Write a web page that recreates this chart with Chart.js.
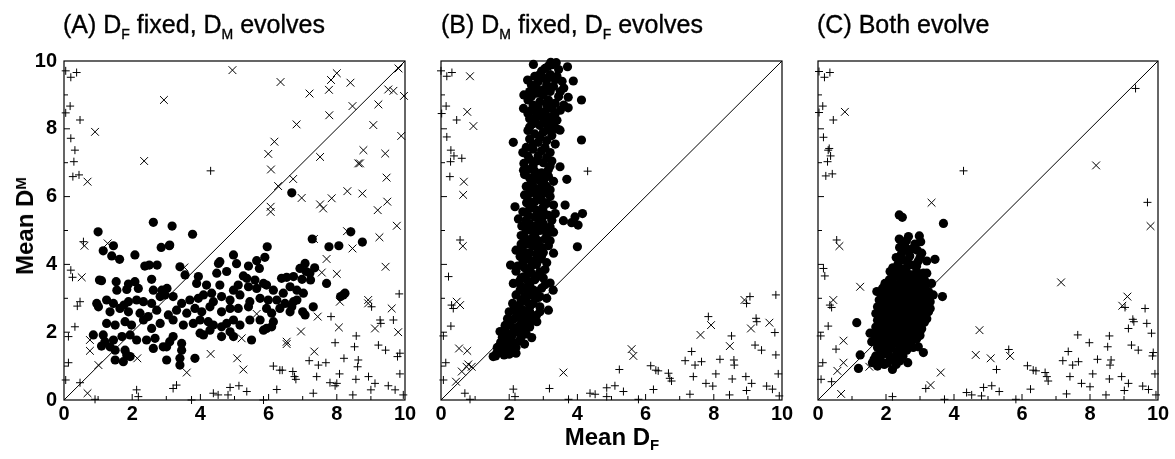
<!DOCTYPE html>
<html lang="en">
<head>
<meta charset="UTF-8" />
<title>Mean D_M vs Mean D_F</title>
<script src="https://cdn.jsdelivr.net/npm/chart.js"></script>
<style>
  body {
    margin: 0;
    width: 1175px;
    height: 459px;
    position: relative;
    overflow: hidden;
    background: #fff;
    color: #000;
    font-family: "Liberation Sans", Arial, sans-serif;
  }
  canvas { position: absolute; top: 0; }
  .title {
    position: absolute;
    top: 12px;
    font-size: 25px;
    line-height: 25px;
    white-space: nowrap;
    -webkit-text-stroke: 0.35px #000;
  }
  .title sub { font-size: 14px; vertical-align: -6px; line-height: 0; }
  .axis-title {
    position: absolute;
    font-size: 24px;
    font-weight: bold;
    line-height: 24px;
    white-space: nowrap;
  }
  .axis-title sub { font-size: 15px; vertical-align: -5px; line-height: 0; }
  .axis-title sup { font-size: 15px; vertical-align: 7px; line-height: 0; }
  #ytitle {
    left: 25px;
    top: 226px;
    transform: translate(-50%, -50%) rotate(-90deg);
  }
  #xtitle {
    left: 612px;
    top: 437px;
    transform: translate(-50%, -50%);
  }
</style>
</head>
<body>
  <canvas id="panelA" width="420" height="430" style="left:0px"></canvas>
  <canvas id="panelB" width="420" height="430" style="left:380px"></canvas>
  <canvas id="panelC" width="395" height="430" style="left:780px"></canvas>

  <div class="title" style="left:63px">(A) D<sub>F</sub> fixed, D<sub>M</sub> evolves</div>
  <div class="title" style="left:441px">(B) D<sub>M</sub> fixed, D<sub>F</sub> evolves</div>
  <div class="title" style="left:817px">(C) Both evolve</div>

  <div class="axis-title" id="ytitle">Mean D<sup>M</sup></div>
  <div class="axis-title" id="xtitle">Mean D<sub>F</sub></div>

  <script>
    // axis range and ticks
    const axisMin = 0;
    const axisMax = 10;
    const labelStep = 2;
    const tickMarks = [1, 2, 3, 4, 5, 6, 7, 8, 9];
    const diagonal = [[0, 0], [10, 10]];

    // (A) D_F fixed, D_M evolves
    const aDots = [
      [1.0,4.96],[2.62,5.24],[3.17,5.13],[3.77,4.89],[3.09,4.55],[2.85,4.5],[1.45,4.55],[5.96,4.52],[6.68,6.11],[7.28,4.75],
      [7.77,4.52],[8.06,4.55],[8.41,4.96],[8.75,4.66],[1.15,4.4],[1.4,4.25],[1.63,4.15],[2.08,4.28],[3.1,4.57],[4.97,4.28],
      [5.89,4.21],[5.65,4.11],[4.57,4.08],[4.53,4.03],[5.06,4.02],[2.37,3.95],[2.5,3.98],[2.73,3.98],[3.4,3.93],[5.41,3.95],
      [5.73,3.88],[6.92,3.88],[7.1,3.79],[7.21,3.74],[7.07,4.03],[7.35,3.9],[1.04,3.54],[1.1,3.52],[1.53,3.49],[1.89,3.42],
      [2.08,3.49],[2.57,3.56],[3.55,3.69],[3.94,3.64],[4.48,3.74],[4.77,3.79],[5.26,3.66],[5.36,3.59],[5.6,3.54],[5.85,3.44],
      [6.38,3.59],[6.53,3.62],[6.73,3.64],[6.98,3.56],[7.23,3.54],[7.7,3.44],[8.24,3.15],[1.55,3.24],[1.84,3.26],[2.18,3.29],
      [2.62,3.24],[2.87,3.24],[3.02,3.29],[3.89,3.44],[4.18,3.39],[4.33,3.15],[4.57,3.39],[4.97,3.24],[5.11,3.39],[5.41,3.34],
      [5.65,3.29],[5.94,3.39],[6.14,3.24],[6.43,3.15],[6.63,3.34],[6.83,3.24],[7.02,3.15],[8.19,3.1],[8.11,3.05],[0.96,2.85],
      [1.25,2.95],[1.45,2.85],[1.76,2.8],[1.89,2.9],[2.13,2.95],[2.33,2.9],[2.57,2.85],[2.82,3.05],[2.96,3.1],[3.2,3.05],
      [3.45,2.85],[3.69,2.95],[3.94,3.0],[4.09,3.1],[4.38,2.9],[4.62,3.05],[4.87,2.95],[5.16,3.1],[5.45,2.9],[5.75,3.0],
      [5.99,2.95],[6.24,2.95],[6.48,2.85],[6.73,2.9],[6.83,2.95],[1.01,2.75],[1.35,2.6],[1.64,2.7],[1.89,2.6],[2.23,2.56],
      [2.47,2.46],[2.72,2.65],[3.06,2.51],[3.3,2.65],[3.6,2.56],[3.84,2.7],[4.04,2.6],[4.28,2.75],[4.62,2.6],[4.87,2.7],
      [5.11,2.7],[5.41,2.75],[5.94,2.7],[6.09,2.56],[6.33,2.7],[6.63,2.6],[6.68,2.75],[7.0,2.6],[7.07,2.51],[7.31,2.75],
      [1.25,2.26],[1.5,2.21],[1.79,2.31],[1.98,2.21],[2.33,2.36],[2.57,2.11],[2.82,2.26],[3.2,2.36],[3.5,2.21],[3.79,2.26],
      [3.99,2.36],[4.23,2.31],[4.38,2.21],[4.62,2.16],[4.77,2.26],[4.97,2.36],[5.16,2.21],[5.45,2.36],[5.75,2.36],[5.85,2.06],
      [6.14,2.31],[0.86,1.92],[1.15,1.92],[1.2,1.72],[1.45,1.77],[1.7,1.87],[1.94,1.92],[2.13,1.77],[2.42,1.77],[2.67,1.82],
      [2.91,1.57],[3.1,1.72],[3.2,1.87],[3.45,1.67],[3.99,1.97],[4.09,1.92],[4.28,2.06],[4.62,1.87],[4.87,2.01],[4.97,1.87],
      [5.5,1.77],[5.94,2.11],[6.09,2.16],[1.1,1.59],[1.35,1.57],[1.5,1.47],[1.79,1.47],[1.84,1.33],[1.94,1.28],[1.5,1.18],
      [1.74,1.13],[2.62,1.52],[3.01,1.57],[3.45,1.47],[3.4,1.23],[3.01,1.18],[3.4,1.03],[3.84,1.23]
    ];
    const aCrosses = [
      [4.94,9.73],[6.35,9.38],[7.83,9.44],[8.0,9.64],[7.77,9.15],[7.2,9.04],[8.4,9.36],[9.81,9.78],[9.51,9.16],[9.66,9.12],
      [9.97,8.97],[9.22,8.72],[8.46,8.67],[7.78,8.4],[2.93,8.85],[0.91,7.91],[2.35,7.05],[0.69,6.44],[5.99,7.26],[6.17,7.62],
      [6.82,8.13],[9.07,8.11],[9.89,7.79],[8.78,7.37],[9.42,7.27],[7.51,7.17],[8.63,6.98],[8.68,6.98],[6.07,6.8],[6.72,6.52],
      [6.28,6.31],[6.97,5.96],[7.51,5.77],[7.6,5.65],[7.85,5.95],[8.31,6.16],[8.75,6.09],[9.46,6.56],[9.48,5.85],[9.2,5.6],
      [9.76,5.14],[6.06,5.7],[6.06,5.55],[7.33,4.75],[8.3,4.98],[9.25,4.8],[8.46,4.47],[0.6,4.55],[1.28,4.62],[9.43,3.93],
      [8.0,3.72],[7.56,3.76],[7.7,4.16],[0.52,3.62],[3.53,3.91],[8.92,2.95],[8.92,2.85],[9.61,2.7],[8.09,2.9],[7.44,2.46],
      [5.65,2.54],[6.53,1.72],[6.53,1.65],[6.95,2.02],[7.34,1.43],[8.06,2.14],[9.8,2.0],[9.12,2.11],[5.21,1.82],[5.08,1.23],
      [5.26,0.9],[4.3,1.36],[3.6,0.81],[0.76,1.77],[0.76,1.45],[2.15,1.23],[1.01,1.03],[0.69,0.2]
    ];
    const aPluses = [
      [0.05,9.71],[0.2,9.52],[0.37,9.66],[0.18,8.67],[0.05,8.47],[0.47,8.26],[0.2,7.72],[0.32,7.37],[0.29,7.03],[0.26,6.59],
      [0.44,6.64],[4.3,6.76],[0.57,4.67],[0.2,3.83],[0.25,3.62],[0.39,2.77],[0.47,2.9],[0.32,2.16],[0.13,1.87],[0.13,1.1],
      [0.05,0.59],[0.47,0.51],[0.91,0.02],[2.13,0.3],[2.18,0.1],[3.2,0.34],[3.3,0.44],[3.74,0.0],[4.38,0.2],[4.52,0.15],
      [4.81,0.15],[4.87,0.37],[5.13,0.42],[5.36,0.25],[5.85,0.0],[6.24,0.31],[6.14,1.0],[6.33,0.88],[6.4,0.88],[6.71,0.84],
      [6.76,0.69],[6.8,0.61],[7.19,1.16],[7.46,1.03],[7.68,1.1],[7.41,0.69],[7.31,0.2],[7.8,0.51],[8.0,0.49],[7.95,0.42],
      [8.08,0.77],[7.95,1.69],[7.83,2.46],[8.21,1.23],[8.61,0.98],[8.63,1.18],[8.52,1.57],[8.57,1.89],[8.56,0.61],[8.47,0.15],
      [8.93,0.69],[9.12,0.49],[9.0,0.3],[9.02,2.75],[9.27,2.36],[9.29,2.26],[9.22,1.62],[9.43,1.47],[9.51,0.42],[9.71,0.3],
      [9.85,0.77],[9.95,0.15],[9.83,3.13],[9.66,2.36],[9.85,1.38],[9.78,1.28]
    ];

    // (B) D_M fixed, D_F evolves
    const bDots = [
      [2.71,9.9],[3.05,9.78],[3.22,9.96],[3.27,9.89],[3.38,9.95],[3.71,9.83],[3.15,9.85],[2.95,9.7],[3.45,9.75],
      [2.54,9.44],[2.85,9.39],[3.88,9.41],[2.75,9.55],[3.0,9.5],[3.2,9.6],[3.4,9.55],[3.55,9.4],[2.65,9.3],[3.1,9.3],[3.3,9.25],[3.6,9.2],
      [2.43,9.0],[2.6,9.1],[2.8,9.05],[3.0,9.0],[3.2,9.1],[3.45,8.95],[3.73,8.93],[2.55,8.85],[2.9,8.8],[3.15,8.85],[3.35,8.75],[4.12,8.85],[2.7,8.7],
      [2.42,8.6],[2.65,8.55],[2.85,8.6],[3.05,8.5],[3.25,8.6],[3.5,8.55],[3.73,8.62],[2.6,8.3],[2.8,8.4],[3.0,8.3],[3.2,8.35],[3.4,8.25],
      [2.7,8.15],[2.9,8.1],[3.15,8.05],[3.3,8.15],
      [2.55,7.95],[2.75,7.85],[3.0,7.9],[3.25,7.8],[3.49,7.96],[2.12,7.6],[2.6,7.7],[2.85,7.6],[3.1,7.65],[3.35,7.55],[4.12,7.67],
      [2.5,7.45],[2.7,7.4],[2.95,7.35],[3.2,7.3],[2.4,7.3],
      [2.43,6.98],[2.6,7.1],[2.8,7.05],[3.0,7.0],[3.25,7.05],[3.49,6.88],[2.55,6.8],[2.42,6.78],[2.75,6.75],[2.95,6.7],[3.15,6.8],
      [2.6,6.55],[2.85,6.5],[3.05,6.55],[3.3,6.45],[3.69,6.51],
      [2.5,6.3],[2.7,6.3],[2.9,6.25],[3.1,6.3],[2.6,6.1],[2.8,6.05],[3.0,6.1],[3.2,6.0],[2.55,5.9],[2.75,5.85],[2.95,5.9],[3.1,5.8],
      [2.17,5.7],[2.51,5.82],[3.3,5.75],[3.64,5.75],
      [2.6,5.65],[2.8,5.6],[3.0,5.55],[2.27,5.34],[2.55,5.45],[2.75,5.4],[2.95,5.35],[3.15,5.45],[3.35,5.5],[4.15,5.5],[3.93,5.4],
      [2.37,5.13],[2.6,5.2],[2.8,5.15],[3.0,5.2],[3.2,5.1],[3.59,5.29],[3.83,5.23],[4.02,5.16],[2.5,5.0],[2.7,4.95],[2.9,5.0],[3.1,4.9],[3.3,4.95],
      [2.45,4.8],[2.65,4.75],[2.85,4.7],[3.05,4.75],[2.5,4.6],[2.7,4.55],[2.95,4.5],[3.15,4.55],[2.2,4.42],[2.4,4.4],[2.6,4.35],[2.8,4.3],
      [3.0,4.35],[3.3,4.33],[4.0,4.52],[2.32,4.23],[2.5,4.15],[2.7,4.1],[2.9,4.15],[3.1,4.05],
      [2.04,3.98],[2.25,3.95],[2.45,3.9],[2.65,3.95],[2.9,3.78],[2.66,3.73],[2.42,3.63],[2.12,3.44],[2.3,3.5],[2.55,3.5],[2.75,3.55],
      [3.0,3.6],[3.2,3.45],[2.32,3.24],[2.5,3.3],[2.7,3.25],[2.95,3.3],[3.29,3.24],[2.2,3.1],[2.45,3.05],[2.9,3.05],[2.65,3.1],[3.1,3.0],
      [2.51,2.9],[2.1,2.85],[2.3,2.8],[2.7,2.85],[2.9,2.75],[3.15,2.65],[2.0,2.6],[2.2,2.6],[2.4,2.65],[2.6,2.6],[2.8,2.5],[2.42,2.36],
      [2.81,2.31],[1.95,2.4],[2.15,2.4],[2.6,2.4],[1.88,2.2],[2.05,2.2],[2.25,2.15],[2.5,2.2],[1.73,2.02],[1.88,2.12],[2.2,2.0],[2.4,2.0],
      [2.66,1.84],[2.07,1.87],[1.9,1.8],[2.3,1.75],[1.75,1.7],[2.0,1.6],[2.2,1.55],[1.65,1.55],[1.85,1.5],[1.53,1.28],[1.63,1.38],
      [1.85,1.33],[2.2,1.38],[2.05,1.45],
      [2.9,9.6],[3.1,9.45],[3.35,9.45],[2.8,9.2],[3.0,9.15],[3.5,9.1],[2.65,8.95],[3.1,8.7],[3.6,8.7],[2.55,8.45],[2.95,8.45],[3.35,8.45],
      [2.75,8.25],[3.1,8.2],[2.6,8.05],[3.4,8.0],[2.9,7.75],[3.2,7.95],[2.7,7.55],[3.05,7.45],[2.55,7.2],[2.85,7.2],[3.1,7.15],[2.7,6.9],
      [3.2,6.9],[2.45,6.65],[2.75,6.6],[3.15,6.6],[2.65,6.4],[3.0,6.4],[2.8,6.2],[3.2,6.2],[2.45,6.05],[2.9,6.0],[2.65,5.75],[3.0,5.7],
      [2.4,5.55],[2.9,5.45],[3.25,5.3],[2.5,5.3],[2.9,5.25],[2.6,5.05],[3.0,5.05],[2.35,4.85],[2.75,4.85],[3.2,4.7],[2.35,4.6],[2.85,4.45],
      [2.55,4.25],[2.95,4.25],[2.4,4.05],[2.8,4.0],[3.05,3.85],[2.2,3.8],[2.55,3.75],[2.35,3.6],[2.85,3.65],[2.6,3.4],[3.05,3.4],[2.35,3.35],
      [2.8,3.2],[2.55,3.15],[2.35,2.95],[2.8,3.0],[2.6,2.75],[2.15,2.7],[2.9,2.6],[2.5,2.5],[2.3,2.45],[2.7,2.35],[2.0,2.3],[2.35,2.25],
      [2.6,2.15],[2.15,2.05],[2.5,1.95],[1.95,1.95],[2.35,1.85],[1.8,1.85],[2.1,1.7],[2.45,1.65],[1.9,1.6],[1.7,1.4],[2.0,1.35],[1.6,1.3]
    ];
    const bCrosses = [
      [0.85,9.55],[0.77,8.5],[0.95,8.08],[0.67,6.44],[0.65,6.05],[0.64,4.54],[0.53,1.52],[0.77,1.45],[0.46,2.9],[0.56,2.8],
      [0.61,0.84],[0.75,0.98],[0.8,1.05],[0.9,0.98],[3.59,0.81],[5.59,1.5],[5.64,1.3],[7.61,1.92],[7.92,2.21],[8.47,1.59],
      [8.9,2.95],[9.09,2.11],[9.63,2.28],[0.44,0.54]
    ];
    const bPluses = [
      [0.0,9.71],[0.17,9.55],[0.32,9.66],[0.15,8.67],[0.02,8.45],[0.46,8.26],[0.17,7.76],[0.29,7.37],[0.38,7.2],[0.61,7.13],
      [0.28,7.03],[0.26,6.59],[0.56,4.72],[4.3,6.75],[0.22,3.64],[0.31,2.8],[0.36,2.7],[0.29,2.18],[0.07,1.89],[0.14,1.1],
      [0.07,0.59],[0.7,0.2],[0.85,0.02],[2.12,0.32],[2.17,0.1],[3.18,0.34],[3.74,0.02],[4.37,0.2],[4.52,0.17],[4.86,0.1],
      [4.86,0.36],[5.1,0.42],[5.35,0.25],[5.79,0.02],[5.23,0.9],[6.23,0.31],[6.15,1.01],[6.3,0.88],[6.37,0.86],[6.67,0.79],
      [6.71,0.64],[6.76,0.56],[7.16,1.16],[7.35,1.43],[7.45,1.03],[7.64,1.13],[7.4,0.69],[7.3,0.17],[7.84,2.46],[7.77,0.49],
      [7.97,0.41],[8.06,0.77],[8.18,1.2],[8.52,1.89],[8.59,1.18],[8.6,1.03],[8.54,0.62],[8.46,0.15],[8.94,0.69],[9.11,0.49],
      [8.96,0.28],[8.96,2.85],[9.24,2.41],[9.26,2.31],[9.21,1.62],[9.4,1.47],[9.55,0.41],[9.72,0.32],[9.89,0.77],[9.92,0.12],
      [9.82,3.1],[9.79,1.99],[9.82,1.33],[9.06,3.05]
    ];

    // (C) Both evolve
    const cDots = [
      [2.39,5.46],[2.48,5.39],[3.69,5.21],[2.39,4.75],[2.66,4.82],[2.98,4.84],[3.02,4.67],[2.61,4.42],[2.92,4.42],[3.05,4.33],
      [3.44,4.15],[2.51,4.13],[2.8,3.98],[2.41,3.88],[2.12,3.79],[3.1,3.74],[1.14,2.28],[3.66,3.05],[3.13,2.29],[3.1,1.4],
      [2.64,1.1],[2.19,0.9],[1.75,1.0],[1.19,0.93],[1.24,1.33],[1.53,1.97],[1.58,1.72],[1.73,3.2],[1.97,3.44],[3.39,3.1],
      [3.34,3.44],[3.2,3.74],[2.95,1.57],[2.61,1.47],[2.31,1.43],
      [2.3,3.7],[2.5,3.75],[2.7,3.7],[2.9,3.8],[2.6,3.9],[2.2,3.6],[2.95,3.6],
      [2.0,3.35],[2.2,3.45],[2.4,3.4],[2.6,3.5],[2.8,3.45],[3.0,3.4],[3.15,3.5],
      [1.85,3.15],[2.05,3.2],[2.25,3.25],[2.45,3.2],[2.65,3.25],[2.85,3.2],[3.05,3.25],[3.25,3.2],
      [1.8,2.95],[2.0,3.0],[2.2,3.0],[2.4,3.05],[2.6,3.0],[2.8,3.05],[3.0,3.0],[3.2,2.95],
      [1.75,2.75],[1.95,2.8],[2.15,2.8],[2.35,2.75],[2.55,2.8],[2.75,2.8],[2.95,2.75],[3.15,2.8],[3.3,2.7],
      [1.7,2.55],[1.9,2.6],[2.1,2.6],[2.3,2.55],[2.5,2.6],[2.7,2.55],[2.9,2.6],[3.1,2.55],
      [1.75,2.35],[1.95,2.4],[2.15,2.35],[2.35,2.4],[2.55,2.35],[2.75,2.4],[2.95,2.35],[3.15,2.45],
      [1.7,2.15],[1.9,2.2],[2.1,2.15],[2.3,2.2],[2.5,2.15],[2.7,2.2],[2.9,2.15],[3.05,2.1],
      [1.65,1.95],[1.85,2.0],[2.05,1.95],[2.25,2.0],[2.45,1.95],[2.65,2.0],[2.85,1.95],[3.0,1.9],
      [1.7,1.8],[1.9,1.75],[2.1,1.8],[2.3,1.75],[2.5,1.8],[2.7,1.75],[2.9,1.8],
      [1.75,1.55],[1.95,1.6],[2.15,1.55],[2.4,1.6],[2.6,1.6],[2.8,1.55],
      [1.7,1.3],[1.9,1.35],[2.1,1.3],[2.3,1.25],[2.5,1.3],[1.85,1.15],[2.05,1.1],[2.3,1.05],[1.6,1.1],
      [2.3,4.2],[2.7,4.25],[2.55,4.55],[2.85,4.6],[3.2,4.1],[2.45,4.3],[2.95,4.1],
      [2.1,3.55],[2.4,3.6],[2.65,3.65],[2.85,3.6],[3.1,3.6],
      [1.9,3.3],[2.15,3.35],[2.35,3.3],[2.55,3.35],[2.75,3.35],[2.95,3.3],[3.15,3.35],
      [1.9,3.1],[2.1,3.1],[2.3,3.12],[2.5,3.1],[2.7,3.1],[2.9,3.1],[3.1,3.1],[3.3,3.05],
      [1.85,2.9],[2.05,2.9],[2.25,2.9],[2.45,2.9],[2.65,2.9],[2.9,2.9],[3.1,2.88],[3.3,2.9],
      [1.8,2.65],[2.0,2.7],[2.2,2.7],[2.4,2.68],[2.65,2.7],[2.85,2.7],[3.05,2.68],[3.25,2.6],
      [1.8,2.45],[2.0,2.5],[2.2,2.5],[2.4,2.5],[2.6,2.48],[2.8,2.5],[3.0,2.48],[3.2,2.4],
      [1.8,2.25],[2.0,2.28],[2.2,2.27],[2.4,2.3],[2.6,2.28],[2.85,2.28],[3.05,2.25],
      [1.75,2.05],[1.95,2.1],[2.15,2.08],[2.35,2.1],[2.55,2.07],[2.8,2.08],[3.0,2.02],
      [1.75,1.88],[1.95,1.88],[2.2,1.9],[2.4,1.88],[2.6,1.88],[2.8,1.88],
      [1.8,1.68],[2.05,1.7],[2.25,1.68],[2.45,1.7],[2.7,1.68],
      [1.85,1.45],[2.05,1.45],[2.5,1.45],[1.8,1.25],[2.2,1.2],[2.4,1.15],[1.65,1.2],[1.95,1.05],
      [2.35,4.0],[2.65,4.05],[2.9,3.95],[2.2,3.9],[3.0,4.2],[2.6,4.7],[2.75,4.45],[2.4,4.5]
    ];
    const cCrosses = [
      [0.79,8.5],[3.34,5.82],[8.18,6.92],[9.78,5.13],[0.63,4.54],[1.24,3.34],[0.45,2.95],[0.75,1.75],[0.75,1.1],[0.57,0.86],
      [0.68,0.18],[1.51,0.98],[3.31,0.44],[3.61,0.81],[4.64,1.33],[5.08,1.23],[5.65,1.3],[4.75,2.06],[7.15,3.47],[8.95,2.78],
      [9.1,3.05]
    ];
    const cPluses = [
      [0.03,9.69],[0.19,9.52],[0.35,9.66],[0.14,8.67],[0.03,8.48],[0.45,8.26],[0.16,7.75],[0.33,7.42],[9.34,9.19],[0.3,7.37],
      [0.37,7.2],[0.28,7.03],[0.42,6.67],[0.23,6.61],[4.28,6.76],[9.69,5.83],[0.55,4.72],[0.16,3.88],[0.2,3.66],[0.35,2.8],
      [0.4,2.73],[0.3,2.18],[0.08,1.89],[0.14,1.1],[0.53,1.5],[0.09,0.61],[0.4,0.54],[2.19,0.1],[3.17,0.34],[3.72,0.02],
      [4.37,0.22],[4.52,0.15],[4.81,0.12],[4.87,0.37],[5.11,0.42],[5.33,0.25],[5.25,0.9],[5.61,1.49],[5.82,0.02],[6.25,0.32],
      [6.16,1.01],[6.33,0.88],[6.41,0.86],[6.68,0.81],[6.73,0.69],[6.77,0.56],[7.2,1.16],[7.36,1.43],[7.49,1.03],[7.66,1.13],
      [7.41,0.69],[7.31,0.18],[7.64,1.92],[7.98,1.69],[8.22,1.2],[7.75,0.49],[8.0,0.39],[8.08,0.77],[8.47,0.15],[8.57,1.89],
      [8.52,1.57],[8.62,1.18],[8.59,1.03],[8.57,0.62],[8.93,0.69],[9.13,0.49],[9.01,0.28],[9.13,2.11],[9.22,1.62],[9.42,1.47],
      [9.29,2.31],[9.26,2.38],[9.62,2.7],[9.67,2.26],[9.81,1.97],[9.86,1.4],[9.84,1.3],[9.55,0.41],[9.72,0.31],[9.91,0.77],
      [9.94,0.15],[9.03,2.73]
    ];

    Chart.defaults.font.family = '"Liberation Sans", Arial, sans-serif';
    Chart.defaults.color = '#000';

    const toXY = pts => pts.map(p => ({ x: p[0], y: p[1] }));

    // box round the plot area plus inward tick marks
    const framePlugin = {
      id: 'frame',
      beforeDatasetsDraw(chart) {
        const { ctx, chartArea: a, scales: { x, y } } = chart;
        ctx.save();
        ctx.strokeStyle = '#000';
        ctx.lineWidth = 1.2;
        ctx.strokeRect(a.left, a.top, a.right - a.left, a.bottom - a.top);
        ctx.lineWidth = 1;
        tickMarks.forEach(v => {
          const len = v % 2 === 0 ? 6 : 4;
          const px = x.getPixelForValue(v);
          const py = y.getPixelForValue(v);
          ctx.beginPath();
          ctx.moveTo(px, a.bottom);
          ctx.lineTo(px, a.bottom - len);
          ctx.moveTo(a.left, py);
          ctx.lineTo(a.left + len, py);
          ctx.stroke();
        });
        ctx.restore();
      }
    };

    function makePanel(id, dots, crosses, pluses, showY, yWidth, padRight) {
      return new Chart(document.getElementById(id), {
        type: 'scatter',
        data: {
          datasets: [
            {
              data: toXY(diagonal),
              showLine: true,
              borderColor: '#000',
              borderWidth: 1,
              pointRadius: 0
            },
            {
              data: toXY(pluses),
              pointStyle: 'cross',
              pointRadius: 4,
              borderColor: '#000',
              borderWidth: 1,
              clip: false
            },
            {
              data: toXY(crosses),
              pointStyle: 'crossRot',
              pointRadius: 5.5,
              borderColor: '#000',
              borderWidth: 1,
              clip: false
            },
            {
              data: toXY(dots),
              pointStyle: 'circle',
              pointRadius: 4.6,
              backgroundColor: '#000',
              borderWidth: 0,
              clip: false
            }
          ]
        },
        options: {
          responsive: false,
          animation: false,
          events: [],
          layout: { padding: { top: 61, right: padRight, left: 0, bottom: 0 } },
          plugins: { legend: { display: false }, tooltip: { enabled: false } },
          scales: {
            x: {
              type: 'linear',
              min: axisMin,
              max: axisMax,
              grid: { display: false, drawTicks: false },
              border: { display: false },
              ticks: { stepSize: labelStep, padding: 2, maxRotation: 0, font: { size: 20, weight: 'bold' } },
              afterFit: s => { s.height = 30; }
            },
            y: {
              type: 'linear',
              min: axisMin,
              max: axisMax,
              grid: { display: false, drawTicks: false },
              border: { display: false },
              ticks: { display: showY, stepSize: labelStep, padding: 7, font: { size: 20, weight: 'bold' } },
              afterFit: s => { s.width = yWidth; }
            }
          }
        },
        plugins: [framePlugin]
      });
    }

    makePanel('panelA', aDots, aCrosses, aPluses, true, 64, 15);
    makePanel('panelB', bDots, bCrosses, bPluses, false, 61, 18);
    makePanel('panelC', cDots, cCrosses, cPluses, false, 38, 17);
  </script>
</body>
</html>
